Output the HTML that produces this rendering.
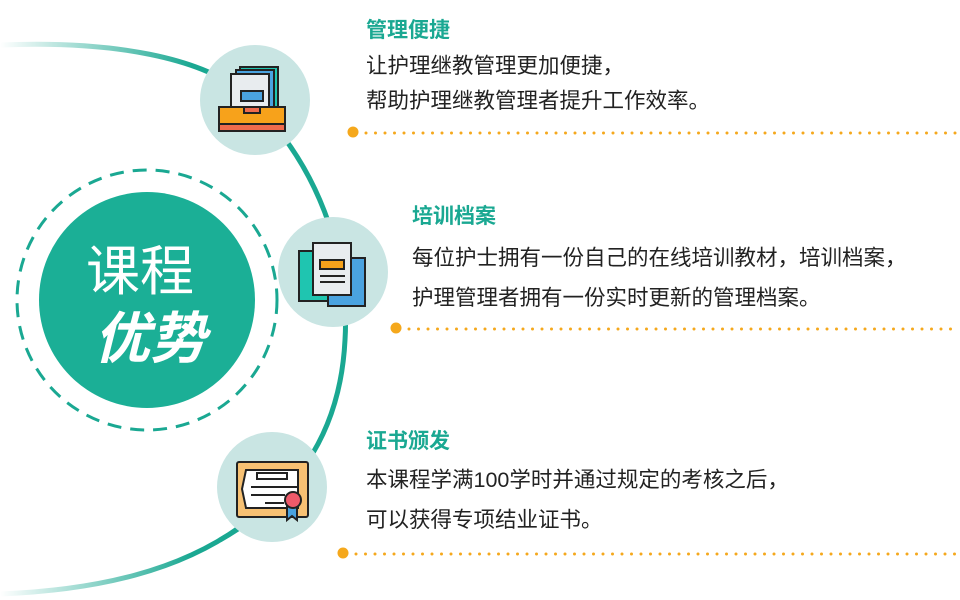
<!DOCTYPE html>
<html><head><meta charset="utf-8"><style>
body{margin:0;width:960px;height:600px;overflow:hidden;background:#fff;font-family:"Liberation Sans","Noto Sans CJK SC",sans-serif;}
.t{position:absolute;white-space:nowrap;}
.h{color:#1aa892;font-size:21px;font-weight:bold;}
.p{color:#222;font-size:21.5px;}
</style></head><body>
<svg width="960" height="600" style="position:absolute;left:0;top:0">
<defs>
<linearGradient id="g1" x1="0" y1="0" x2="1" y2="0"><stop offset="0" stop-color="#1aa892" stop-opacity="0"/><stop offset="0.8" stop-color="#1aa892" stop-opacity="1"/></linearGradient>
<linearGradient id="g2" x1="0" y1="0" x2="1" y2="0"><stop offset="0" stop-color="#1aa892" stop-opacity="0"/><stop offset="0.8" stop-color="#1aa892" stop-opacity="1"/></linearGradient>
</defs>
<path d="M 0,45 C 120,40 200,60 240,90" stroke="url(#g1)" stroke-width="5" fill="none"/>
<path d="M 240,90 C 320,160 350,260 345,340 C 340,440 290,500 220,540" stroke="#1aa892" stroke-width="5" fill="none"/>
<path d="M 240,527 C 180,570 100,590 0,594" stroke="url(#g2)" stroke-width="5" fill="none"/>
<circle cx="147" cy="300" r="130" fill="none" stroke="#1aa892" stroke-width="3" stroke-dasharray="14 9"/>
<circle cx="147" cy="300" r="108" fill="#1baf96"/>
<text x="140" y="290" fill="#fff" font-size="54" text-anchor="middle" font-family="Liberation Sans,Noto Sans CJK SC,sans-serif">课程</text>
<text x="150" y="358" fill="#fff" font-size="56" font-weight="bold" font-style="italic" text-anchor="middle" font-family="Liberation Sans,Noto Sans CJK SC,sans-serif">优势</text>
<circle cx="255" cy="100" r="55" fill="#c9e5e3"/>
<circle cx="333" cy="272" r="55" fill="#c9e5e3"/>
<circle cx="272" cy="487" r="55" fill="#c9e5e3"/>
<g stroke="#222" stroke-width="2">
<rect x="240" y="67" width="38" height="45" fill="#1fc5b0"/>
<rect x="236" y="70" width="38" height="45" fill="#4aa3e0"/>
<rect x="231" y="74" width="38" height="45" fill="#e8ecef"/>
<rect x="241" y="91" width="22" height="10" fill="#4aa3e0"/>
<rect x="219" y="107" width="66" height="17" fill="#f7a21b"/>
<rect x="219" y="124" width="66" height="7" fill="#ef6b4c"/>
<rect x="244" y="107" width="16" height="6" fill="#ef6b4c"/>
</g>
<g stroke="#222" stroke-width="2">
<rect x="299" y="251" width="34" height="50" fill="#1fc5b0"/>
<rect x="328" y="258" width="37" height="48" fill="#4aa3e0"/>
<rect x="313" y="243" width="38" height="52" fill="#e8ecef"/>
<rect x="320" y="260" width="24" height="9" fill="#f7a21b"/>
<line x1="320" y1="276" x2="345" y2="276"/><line x1="320" y1="282" x2="345" y2="282"/>
</g>
<g stroke="#222" stroke-width="2">
<rect x="237" y="462" width="71" height="55" rx="2" fill="#f7c173"/>
<path d="M246,470 H298 V508 H246 L242,489 Z" fill="#fff"/>
<rect x="257" y="473" width="30" height="6" fill="#fff"/>
<line x1="251" y1="487" x2="297" y2="487"/><line x1="251" y1="495" x2="285" y2="495"/><line x1="265" y1="503" x2="284" y2="503"/>
<path d="M287,503 V520 L292,516 L297,520 V503" fill="#4aa3e0"/>
<circle cx="293" cy="500" r="8" fill="#ef5a6a"/>
</g>
<circle cx="353" cy="132" r="5.5" fill="#f5a81c"/>
<line x1="366" y1="133" x2="960" y2="133" stroke="#f5a81c" stroke-width="3" stroke-linecap="round" stroke-dasharray="0 9.5"/>
<circle cx="396" cy="328" r="5.5" fill="#f5a81c"/>
<line x1="409" y1="329" x2="960" y2="329" stroke="#f5a81c" stroke-width="3" stroke-linecap="round" stroke-dasharray="0 9.5"/>
<circle cx="343" cy="553" r="5.5" fill="#f5a81c"/>
<line x1="356" y1="554" x2="960" y2="554" stroke="#f5a81c" stroke-width="3" stroke-linecap="round" stroke-dasharray="0 9.5"/>
</svg>
<div class="t h" style="left:366px;top:14px">管理便捷</div>
<div class="t p" style="left:366px;top:49px">让护理继教管理更加便捷，</div>
<div class="t p" style="left:366px;top:84px">帮助护理继教管理者提升工作效率。</div>
<div class="t h" style="left:412px;top:200px">培训档案</div>
<div class="t p" style="left:412px;top:241px">每位护士拥有一份自己的在线培训教材，培训档案，</div>
<div class="t p" style="left:412px;top:281px">护理管理者拥有一份实时更新的管理档案。</div>
<div class="t h" style="left:366px;top:425px">证书颁发</div>
<div class="t p" style="left:366px;top:463px">本课程学满100学时并通过规定的考核之后，</div>
<div class="t p" style="left:366px;top:503px">可以获得专项结业证书。</div>
</body></html>
